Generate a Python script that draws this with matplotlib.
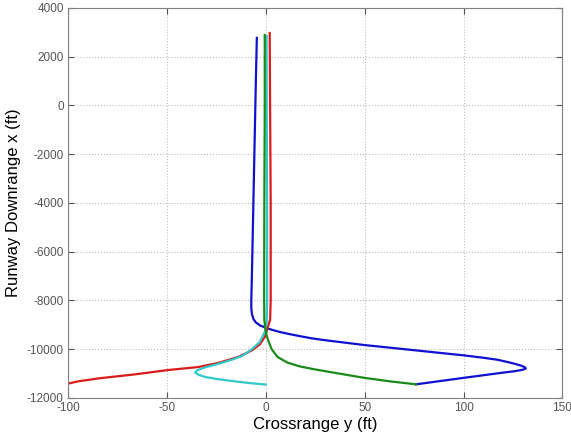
import numpy as np
import matplotlib
matplotlib.use("Agg")
import matplotlib.pyplot as plt

plt.rcParams['font.family'] = ['Liberation Sans', 'DejaVu Sans']
plt.rcParams['axes.unicode_minus'] = False

# trajectories: crossrange y (ft), downrange x (ft)
blue_y = [-4.5, -5.0, -5.5, -6.0, -6.5, -7.0, -7.3, -7.3, -7.0, -6.3, -5.0, -3.0, 0, 3, 7,
          12, 17, 23, 30, 38, 50, 62, 75, 88, 100, 110, 117, 122, 126, 129, 131, 131.5,
          130, 126, 120, 100, 76]
blue_x = [2770, 1000, -1000, -3000, -5000, -7000, -8000, -8300, -8550, -8750, -8900, -9020,
          -9120, -9200, -9290, -9380, -9460, -9550, -9630, -9710, -9830, -9930, -10040,
          -10150, -10250, -10350, -10430, -10520, -10600, -10670, -10740, -10790, -10840,
          -10900, -10960, -11175, -11440]

green_y = [-0.5, -0.5, -0.7, -0.8, -0.7, -0.3, 0.5, 1.5, 3, 6, 11, 17, 25, 35, 49.5, 63, 76]
green_x = [2890, 0, -4000, -8000, -8800, -9100, -9450, -9700, -10000, -10320, -10550,
           -10700, -10830, -10970, -11170, -11320, -11440]

red_y = [2, 2.2, 2.5, 2.5, 2.2, 1, -0.5, -3, -7, -14, -24, -34, -49, -67, -84, -95, -101]
red_x = [2970, 0, -4000, -8000, -8800, -9100, -9500, -9800, -10050, -10320, -10560,
         -10730, -10850, -11040, -11190, -11320, -11430]

cyan_y = [0.4, 0.5, 0.7, 0.7, 0.5, -0.5, -3, -7, -12, -17.5, -24, -30.5, -34.5, -35.7,
          -34, -30.5, -24, -17.5, -8, 0]
cyan_x = [2850, 0, -4000, -8000, -8900, -9300, -9700, -10000, -10280, -10440, -10600,
          -10740, -10860, -10950, -11050, -11140, -11230, -11300, -11390, -11450]

fig = plt.figure(figsize=(5.71, 4.4), dpi=100)
ax = fig.add_axes([0.119, 0.0955, 0.866, 0.8865])

lw = 1.6
ax.plot(blue_y, blue_x, color='#1010d0', lw=lw)
ax.plot(red_y, red_x, color='#dd1a1a', lw=lw)
ax.plot(cyan_y, cyan_x, color='#30c8c8', lw=lw)
ax.plot(green_y, green_x, color='#1a8a1a', lw=lw)

ax.set_xlim(-100, 150)
ax.set_ylim(-12000, 4000)
ax.set_xticks(np.arange(-100, 151, 50))
ax.set_yticks(np.arange(-12000, 4001, 2000))
ax.grid(True, linestyle=':', color='#c0c0c0', linewidth=0.8)
ax.tick_params(direction='in', length=4, labelsize=8.5, colors='#555555',
               top=True, right=True, pad=3)
for s in ax.spines.values():
    s.set_color('#808080')
    s.set_linewidth(0.8)

ax.set_xlabel('Crossrange y (ft)', fontsize=12, labelpad=2)
ax.set_ylabel('Runway Downrange x (ft)', fontsize=12, labelpad=4)

fig.savefig('out.png', dpi=100)
